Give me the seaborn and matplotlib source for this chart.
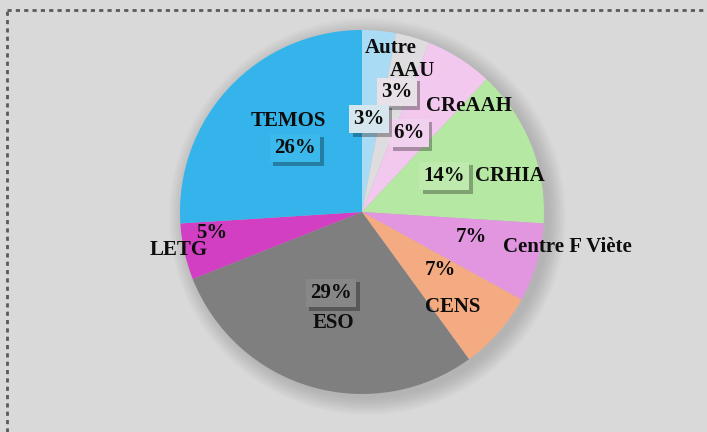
import matplotlib.pyplot as plt
import matplotlib.patheffects as pe
from matplotlib.lines import Line2D
from matplotlib.patches import Circle
import seaborn as sns

labs = ['Autre', 'AAU', 'CReAAH', 'CRHIA', 'Centre F Viète', 'CENS', 'ESO', 'LETG', 'TEMOS']
pct = [3, 3, 6, 14, 7, 7, 29, 5, 26]
cols = ['#a9dcf4', '#dedcde', '#f3c8ef', '#b5e8a2', '#e396e0', '#f5ab82',
        '#7f7f7f', '#d23fc2', '#34b4ea']

sns.set_style('white')
plt.rcParams['font.family'] = ['Liberation Serif', 'DejaVu Serif']

fig = plt.figure(figsize=(7.07, 4.32), dpi=100)
fig.patch.set_facecolor('#d9d9d9')

# dotted frame (top + left only visible)
W, H = 707, 432
fig.add_artist(Line2D([7 / W, 1], [1 - 10 / H, 1 - 10 / H], transform=fig.transFigure,
                      ls=(0, (1.5, 1.5)), lw=2, color='#5a5a5a'))
fig.add_artist(Line2D([7 / W, 7 / W], [0, 1 - 10 / H], transform=fig.transFigure,
                      ls=(0, (1.5, 1.5)), lw=2, color='#5a5a5a'))

ax = fig.add_axes([180 / W, (432 - 394) / H, 364 / W, 364 / H])
ax.set_facecolor('none')

# soft shadow around the pie
for i in range(10):
    ax.add_patch(Circle((0.03, -0.025), 1.0 + 0.01 * i, color='black', alpha=0.016, lw=0,
                        zorder=0, clip_on=False))

wedges, _ = ax.pie(pct, colors=sns.color_palette(cols), startangle=90, counterclock=False,
                   radius=1, wedgeprops=dict(lw=0))
for w in wedges:
    w.set_zorder(2)

# label positions (axes data units), box colour or None
txt = [
    ('Autre', 0.159, 0.901, None),
    ('AAU', 0.280, 0.775, None),
    ('3%', 0.192, 0.660, '#e8e2e8'),
    ('CReAAH', 0.588, 0.582, None),
    ('6%', 0.258, 0.434, '#f1d2ee'),
    ('3%', 0.038, 0.511, '#d6e6ee'),
    ('TEMOS', -0.407, 0.50, None),
    ('26%', -0.368, 0.352, '#3cb9ec'),
    ('14%', 0.451, 0.198, '#bfeaae'),
    ('CRHIA', 0.813, 0.198, None),
    ('7%', 0.599, -0.137, None),
    ('Centre F Viète', 1.126, -0.192, None),
    ('7%', 0.429, -0.319, None),
    ('CENS', 0.500, -0.522, None),
    ('29%', -0.170, -0.445, '#878787'),
    ('ESO', -0.159, -0.610, None),
    ('5%', -0.824, -0.115, None),
    ('LETG', -1.005, -0.209, None),
]
for s, x, y, bc in txt:
    t = ax.text(x, y, s, ha='center', va='center', fontsize=15, fontweight='bold',
                color='#0d0d0d', zorder=5)
    if bc:
        t.set_bbox(dict(boxstyle='square,pad=0.2', fc=bc, ec='none'))
        t.get_bbox_patch().set_path_effects([pe.withSimplePatchShadow(offset=(2.5, -2.5),
                                                                       shadow_rgbFace='black', alpha=0.3)])

ax.set_xlim(-1, 1)
ax.set_ylim(-1, 1)
ax.set_aspect('auto')
ax.axis('off')

fig.savefig('out.png', dpi=100, facecolor=fig.get_facecolor())
